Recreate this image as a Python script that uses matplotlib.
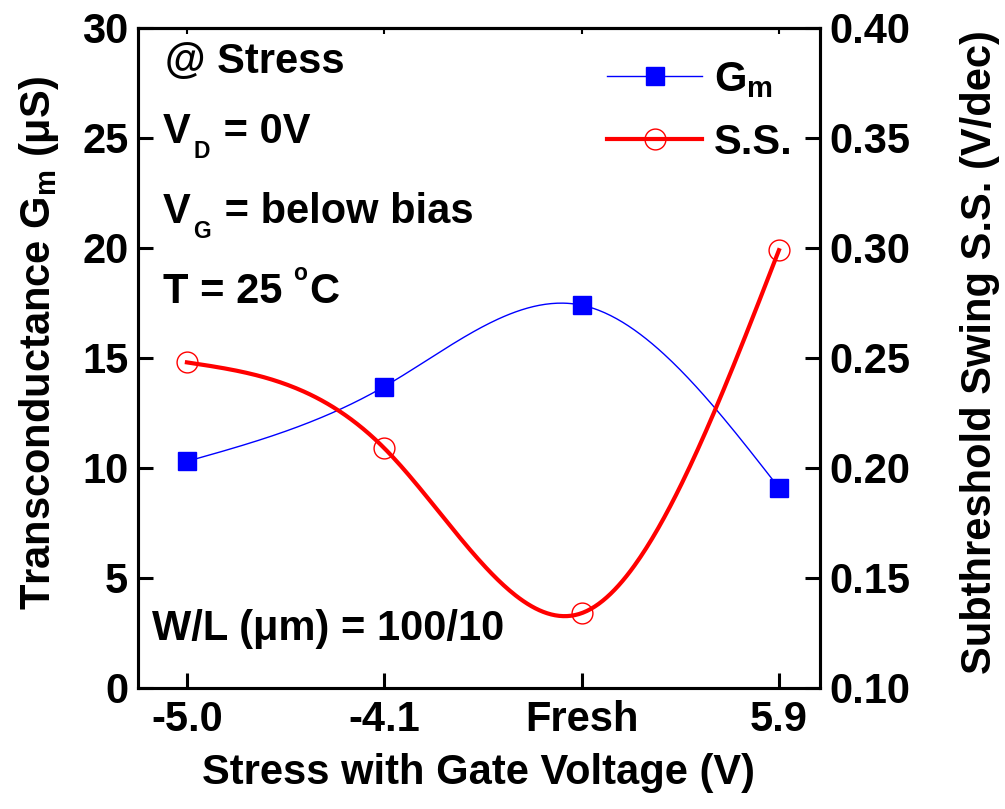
import numpy as np
import matplotlib
matplotlib.use("Agg")
import matplotlib.pyplot as plt
from matplotlib.lines import Line2D

plt.rcParams['font.family'] = ['Liberation Sans', 'DejaVu Sans']
plt.rcParams['font.weight'] = 'bold'
plt.rcParams['mathtext.fontset'] = 'custom'
plt.rcParams['mathtext.rm'] = 'Liberation Sans:bold'
plt.rcParams['mathtext.it'] = 'Liberation Sans:bold'
plt.rcParams['mathtext.bf'] = 'Liberation Sans:bold'

# données
stress_labels = ['-5.0', '-4.1', 'Fresh', '5.9']
gm_values = [10.3, 13.7, 17.4, 9.1]          # uS
ss_values = [0.248, 0.209, 0.134, 0.299]     # V/dec


def natural_spline(x, y, xs):
    # spline cubique naturelle (comme le lissage d'Origin)
    x = np.asarray(x, float)
    y = np.asarray(y, float)
    n = len(x)
    h = np.diff(x)
    A = np.zeros((n, n))
    b = np.zeros(n)
    A[0, 0] = A[-1, -1] = 1
    for i in range(1, n - 1):
        A[i, i - 1] = h[i - 1]
        A[i, i] = 2 * (h[i - 1] + h[i])
        A[i, i + 1] = h[i]
        b[i] = 3 * ((y[i + 1] - y[i]) / h[i] - (y[i] - y[i - 1]) / h[i - 1])
    c = np.linalg.solve(A, b)
    out = np.empty_like(xs)
    for k, xv in enumerate(xs):
        i = min(max(np.searchsorted(x, xv) - 1, 0), n - 2)
        t = xv - x[i]
        bi = (y[i + 1] - y[i]) / h[i] - h[i] * (2 * c[i] + c[i + 1]) / 3
        di = (c[i + 1] - c[i]) / (3 * h[i])
        out[k] = y[i] + bi * t + c[i] * t ** 2 + di * t ** 3
    return out


def rich_text(ax, x, y, parts, fs):
    # texte avec indices / exposants placés à la main (style Origin)
    fig = ax.figure
    r = fig.canvas.get_renderer()
    px = fs * fig.dpi / 72.0
    x0, y0 = ax.transAxes.transform((x, y))
    inv = ax.transAxes.inverted()
    for s, kind in parts:
        size, dy, gap = fs, 0.0, 0.0
        if kind == 'sub':
            size, dy, gap = fs * 0.55, -0.36 * px, 0.08 * px
        elif kind == 'sup':
            size, dy, gap = fs * 0.55, 0.55 * px, 0.0
        xa, ya = inv.transform((x0 + gap, y0 + dy))
        t = ax.text(xa, ya, s, transform=ax.transAxes, fontsize=size, va='baseline', ha='left')
        x0 = t.get_window_extent(r).x1 + (0.05 * px if kind != 'n' else 0)


pos = np.arange(len(stress_labels))
xs = np.linspace(pos[0], pos[-1], 300)

fig = plt.figure(figsize=(10.05, 8.09), dpi=100)
ax = fig.add_axes([0.1373, 0.1496, 0.6786, 0.8158])
ax2 = ax.twinx()

ax.plot(xs, natural_spline(pos, gm_values, xs), color='blue', lw=1.0)
ax.plot(pos, gm_values, 's', color='blue', ms=13, mec='blue')
ax2.plot(xs, natural_spline(pos, ss_values, xs), color='red', lw=3.0)
ax2.plot(pos, ss_values, 'o', mfc='none', mec='red', ms=15, mew=1.0)

ax.set_xlim(-0.248, 3.208)
ax.set_ylim(0, 30)
ax2.set_ylim(0.10, 0.40)
ax.set_xticks(pos)
ax.set_xticklabels(stress_labels)
ax.set_yticks(np.arange(0, 31, 5))
ax2.set_yticks(np.arange(0.10, 0.401, 0.05))
ax2.set_yticklabels(['%.2f' % v for v in np.arange(0.10, 0.401, 0.05)])

fs = 30
for a in (ax, ax2):
    for s in a.spines.values():
        s.set_linewidth(2.2)
ax.tick_params(axis='both', direction='in', length=11, width=2.2, labelsize=fs, pad=7)
ax.tick_params(axis='x', pad=9)
ax2.tick_params(axis='y', direction='in', length=11, width=2.2, labelsize=fs, pad=7)

# petites graduations en haut
top = ax.secondary_xaxis('top')
top.set_xticks(pos)
top.set_xticklabels([])
top.tick_params(direction='in', length=4, width=1.5)
top.spines['top'].set_linewidth(2.2)

ax.set_xlabel('Stress with Gate Voltage (V)', fontsize=fs, fontweight='bold')
ax.xaxis.set_label_coords(0.5, -0.098)
ax.set_ylabel(r'Transconductance G$_\mathrm{m}$ ($\mu$S)', fontsize=fs, fontweight='bold')
ax.yaxis.set_label_coords(-0.113, 0.523)
ax2.set_ylabel('Subthreshold Swing S.S. (V/dec)', fontsize=fs, fontweight='bold')
ax2.yaxis.set_label_coords(1.205, 0.509)

# annotations
rich_text(ax, 0.04, 0.932, [('@ Stress', 'n')], fs)
rich_text(ax, 0.036, 0.826, [('V', 'n'), ('D', 'sub'), (' = 0V', 'n')], fs)
rich_text(ax, 0.036, 0.705, [('V', 'n'), ('G', 'sub'), (' = below bias', 'n')], fs)
rich_text(ax, 0.036, 0.583, [('T = 25 ', 'n'), ('o', 'sup'), ('C', 'n')], fs)
rich_text(ax, 0.02, 0.073, [('W/L (\u03bcm) = 100/10', 'n')], fs)

handles = [
    Line2D([], [], color='blue', lw=1.0, marker='s', ms=13),
    Line2D([], [], color='red', lw=3.0, marker='o', mfc='none', mec='red', ms=15, mew=1.0),
]
ax2.legend(handles, [r'G$_\mathrm{m}$', 'S.S.'], loc='upper left', bbox_to_anchor=(0.688, 0.952),
           frameon=False, fontsize=fs, handlelength=2.28, handletextpad=0.29, labelspacing=0.55,
           borderpad=0, borderaxespad=0)

fig.savefig('out.png', dpi=100)
